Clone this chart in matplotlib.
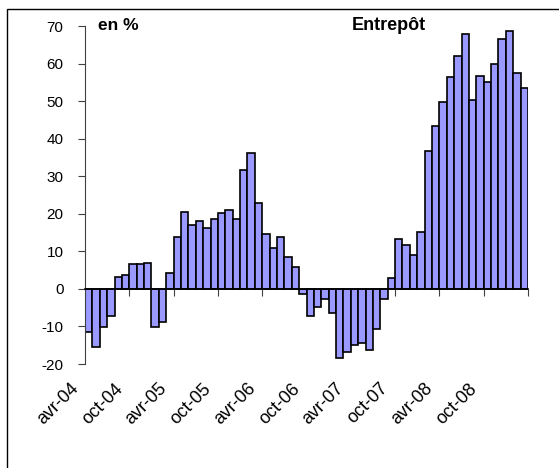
import numpy as np
import matplotlib.pyplot as plt
from matplotlib.patches import Rectangle
from matplotlib.transforms import ScaledTranslation

plt.rcParams['font.family'] = ['Liberation Sans', 'DejaVu Sans']
plt.rcParams['axes.unicode_minus'] = False

# monthly values, avr-04 .. mars-09 (en %)
values = [-11.6, -15.5, -10.1, -7.3, 3.2, 3.6, 6.6, 6.6, 7.0, -10.2,
          -8.8, 4.3, 13.8, 20.5, 17.0, 18.1, 16.1, 18.6, 20.1, 20.9,
          18.6, 31.6, 36.3, 22.9, 14.7, 10.9, 13.8, 8.4, 5.7, -1.4,
          -7.3, -4.9, -2.8, -6.4, -18.3, -16.8, -14.9, -14.4, -16.4, -10.8,
          -2.6, 2.8, 13.3, 11.8, 8.9, 15.2, 36.7, 43.5, 49.7, 56.4,
          62.1, 67.8, 50.3, 56.8, 55.0, 59.8, 66.5, 68.8, 57.5, 53.6]
tick_labels = ['avr-04', 'oct-04', 'avr-05', 'oct-05', 'avr-06',
               'oct-06', 'avr-07', 'oct-07', 'avr-08', 'oct-08']
label_step = 6

fig = plt.figure(figsize=(5.59, 4.68), dpi=100)
ax = fig.add_axes([85/559, 1-364/468, 443/559, 338/468])

x = np.arange(len(values))
ax.bar(x, values, width=1.0, color='#9999ff', edgecolor='black', linewidth=1.2, zorder=2)

ax.set_xlim(-0.5, len(values) - 0.5)
ax.set_ylim(-20, 70)
ax.set_yticks(np.arange(-20, 71, 10))
ax.tick_params(axis='y', length=5, width=0.8, color='#404040', pad=10.5, labelsize=11)

for s in ['top', 'right']:
    ax.spines[s].set_visible(False)
ax.spines['left'].set_color('#404040')
ax.spines['left'].set_linewidth(0.8)

# category axis crosses at 0, tick marks between categories
ax.spines['bottom'].set_position(('data', 0))
ax.spines['bottom'].set_linewidth(1.2)
ax.spines['bottom'].set_zorder(3)
ax.set_xticks(np.arange(label_step, len(values) + 1, label_step) - 0.5)
ax.tick_params(axis='x', length=5, width=0.8, color='#404040', labelbottom=False)

# labels at the bottom of the plot area
sec = ax.secondary_xaxis(0.0)
sec.set_xticks(np.arange(0, len(values), label_step), tick_labels,
               rotation=45, ha='right', va='top', rotation_mode='anchor', fontsize=13)
sec.tick_params(length=0, pad=11.5)
sec.spines['bottom'].set_visible(False)
for lab in sec.get_xticklabels():
    lab.set_transform(lab.get_transform() + ScaledTranslation(-19/100, 0, fig.dpi_scale_trans))

ax.text(0.03, 1.0, 'en %', transform=ax.transAxes, fontsize=12.5, fontweight='bold', va='center')
ax.text(0.603, 1.0, 'Entrepôt', transform=ax.transAxes, fontsize=13, fontweight='bold', va='center')

fig.patches.append(Rectangle((7/559, -0.1), 2, 1.1 - 9/468, transform=fig.transFigure,
                             fill=False, edgecolor='black', linewidth=1.0))

fig.savefig('out.png', dpi=100)
